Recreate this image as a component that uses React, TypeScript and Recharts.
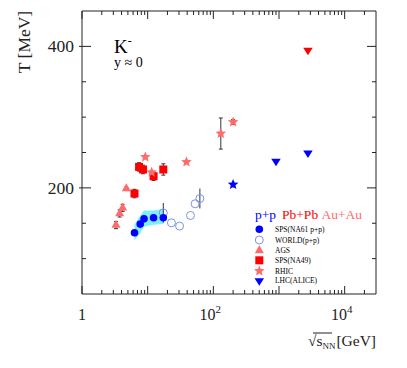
import React from "react";
import { ComposedChart, XAxis, YAxis, Scatter, Area, ErrorBar } from "recharts";

// ---- data ----
const xTicks = [1,2,3,4,5,6,7,8,9,10,20,30,40,50,60,70,80,90,100,200,300,400,500,600,700,800,900,1000,2000,3000,4000,5000,6000,7000,8000,9000,10000,20000];
const xMajor = [1, 10, 100, 1000, 10000];
const xLabelVals = [1, 100, 10000];
const xLabelBase = ["1", "10", "10"];
const xLabelExp = ["", "2", "4"];
const yTicks = [100, 150, 200, 250, 300, 350, 400];
const yLabelVals = [200, 400];

const na61X = [6.3, 7.7, 8.8, 12.3, 17.3];
const na61T = [136.5, 148.8, 156.2, 157.7, 157.7];
const na61Err = [3, 3, 3, 3, 3];
const na61BandLo = [126, 136, 145, 148, 149];
const na61BandHi = [148, 161, 168, 168, 170];

const worldX = [17.3, 23, 30.6, 44.9, 52.8, 62.4];
const worldT = [164.7, 150.6, 146, 161, 177.5, 185];
const worldErr = [14, 0, 0, 0, 0, 14];

const agsX = [3.29, 3.74, 4.16, 4.73];
const agsT = [147.3, 163.8, 171.8, 199];
const agsErr = [5, 5, 5, 2];

const na49X = [6.3, 7.4, 8.5, 12.3, 17.3];
const na49T = [192, 229.6, 226, 216.5, 226];
const na49Err = [6, 6, 6, 6, 8];

const rhicX = [9.2, 11.5, 39, 130, 200];
const rhicT = [243.5, 222, 236.7, 276.8, 293];
const rhicErr = [0, 0, 0, 22, 3.5];

const rhicPPX = [200];
const rhicPPT = [204.8];
const rhicPPErr = [5];

const lhcPPX = [900, 2760];
const lhcPPT = [237.7, 249.4];
const lhcPbX = [2760];
const lhcPbT = [394.4];

const legendHeads = ["p+p", "Pb+Pb", "Au+Au"];
const legendLabels = ["SPS(NA61 p+p)", "WORLD(p+p)", "AGS", "SPS(NA49)", "RHIC", "LHC(ALICE)"];

// ---- colours / build ----
const BLUE = "#0000ff";
const RED = "#ff0000";
const SALMON = "#ff6b6b";
const OPEN = "#7b93e6";
const AX = "#222";
const FONT = "Liberation Serif, Times New Roman, DejaVu Serif, serif";
const fs = (size: number) => ({ fontFamily: FONT, fontSize: size });

const pts = (xs: number[], ys: number[], es?: number[]) =>
  xs.map((x, i) => ({ x, y: ys[i], e: es ? es[i] : 0 }));
const bandData = na61X.map((x, i) => ({ x, band: [na61BandLo[i], na61BandHi[i]] }));

function drawMarker(kind: string, color: string, cx: number, cy: number) {
  switch (kind) {
    case "circle":
      return <circle cx={cx} cy={cy} r={3.8} fill={color} />;
    case "open":
      return <circle cx={cx} cy={cy} r={4} fill="none" stroke={color} strokeWidth={1} />;
    case "square":
      return <rect x={cx - 4} y={cy - 4} width={8} height={8} fill={color} />;
    case "tri": {
      const w = 9, h = 8;
      return <polygon points={`${cx},${cy - (h * 2) / 3} ${cx - w / 2},${cy + h / 3} ${cx + w / 2},${cy + h / 3}`} fill={color} />;
    }
    case "dtri": {
      const w = 9.5, h = 7.5;
      return <polygon points={`${cx},${cy + (h * 2) / 3} ${cx - w / 2},${cy - h / 3} ${cx + w / 2},${cy - h / 3}`} fill={color} />;
    }
    case "star": {
      const R = 5.6, r = 2.5;
      const p: string[] = [];
      for (let k = 0; k < 10; k++) {
        const a = -Math.PI / 2 + (k * Math.PI) / 5;
        const rr = k % 2 === 0 ? R : r;
        p.push(`${cx + rr * Math.cos(a)},${cy + rr * Math.sin(a)}`);
      }
      return <polygon points={p.join(" ")} fill={color} />;
    }
  }
  return null;
}

const shape = (kind: string, color: string) => (p: any) => {
  if (p.cx == null || p.cy == null) return <g />;
  return drawMarker(kind, color, p.cx, p.cy);
};

const XTick = (p: any) => {
  const { x, y, payload, side } = p;
  const v = payload.value;
  const major = xMajor.includes(v);
  const len = major ? 8 : 4;
  const dir = side === "bottom" ? -1 : 1;
  const li = xLabelVals.indexOf(v);
  return (
    <g>
      <line x1={x} y1={y} x2={x} y2={y + dir * len} stroke={AX} strokeWidth={1} />
      {side === "bottom" && li >= 0 && (
        <text x={li === 0 ? x : x - 3} y={y + 26} textAnchor="middle" style={fs(16)} fill={AX}>
          {xLabelBase[li]}
          {xLabelExp[li] && (
            <tspan dy={-7} style={fs(11)}>
              {xLabelExp[li]}
            </tspan>
          )}
        </text>
      )}
    </g>
  );
};

const YTick = (p: any) => {
  const { x, y, payload, side } = p;
  const v = payload.value;
  const major = yLabelVals.includes(v);
  const dir = side === "left" ? 1 : -1;
  const len = major ? 9 : 4;
  return (
    <g>
      <line x1={major && side === "left" ? x - 3 : x} y1={y} x2={x + dir * len} y2={y} stroke={AX} strokeWidth={1} />
      {side === "left" && major && (
        <text x={x - 8} y={y + 6} textAnchor="end" style={fs(17.5)} fill={AX}>
          {String(v)}
        </text>
      )}
    </g>
  );
};

const W = 399, H = 360;

export default function App() {
  const legendKinds: [string, string][] = [
    ["circle", BLUE], ["open", OPEN], ["tri", SALMON], ["square", RED], ["star", SALMON], ["dtri", BLUE],
  ];
  const legendY = [221.3, 232, 242.7, 252.3, 263, 272.7];
  const headX = [247, 274, 313.5];
  const headCol = [BLUE, RED, SALMON];
  return (
    <div style={{ position: "relative", width: W, height: H }}>
      <ComposedChart width={W} height={H} data={bandData} margin={{ top: 2, right: 30, bottom: 34, left: 34 }}>
        <XAxis xAxisId="b" dataKey="x" type="number" scale="log" domain={[1, 30000]} allowDataOverflow
          ticks={xTicks} interval={0} tickSize={0} tickMargin={0} height={40}
          axisLine={{ stroke: AX }} tickLine={false} tick={(p: any) => <XTick {...p} side="bottom" />} />
        <XAxis xAxisId="t" orientation="top" dataKey="x" type="number" scale="log" domain={[1, 30000]} allowDataOverflow
          ticks={xTicks} interval={0} tickSize={0} tickMargin={0} height={1}
          axisLine={{ stroke: AX }} tickLine={false} tick={(p: any) => <XTick {...p} side="top" />} />
        <YAxis yAxisId="l" dataKey="y" type="number" domain={[50, 450]} allowDataOverflow
          ticks={yTicks} interval={0} tickSize={0} tickMargin={0} width={40}
          axisLine={{ stroke: AX }} tickLine={false} tick={(p: any) => <YTick {...p} side="left" />} />
        <YAxis yAxisId="r" orientation="right" dataKey="y" type="number" domain={[50, 450]} allowDataOverflow
          ticks={yTicks} interval={0} tickSize={0} tickMargin={0} width={1}
          axisLine={{ stroke: AX }} tickLine={false} tick={(p: any) => <YTick {...p} side="right" />} />

        <Area xAxisId="b" yAxisId="l" dataKey="band" type="linear" fill="#7ff0fb" fillOpacity={1} stroke="none" isAnimationActive={false} />

        <Scatter xAxisId="b" yAxisId="l" data={pts(agsX, agsT, agsErr)} shape={shape("tri", SALMON)} isAnimationActive={false}>
          <ErrorBar dataKey="e" direction="y" width={2} stroke="#333" strokeWidth={1} />
        </Scatter>
        <Scatter xAxisId="b" yAxisId="l" data={pts(na49X, na49T, na49Err)} shape={shape("square", RED)} isAnimationActive={false}>
          <ErrorBar dataKey="e" direction="y" width={2} stroke="#333" strokeWidth={1} />
        </Scatter>
        <Scatter xAxisId="b" yAxisId="l" data={pts(rhicX, rhicT, rhicErr)} shape={shape("star", SALMON)} isAnimationActive={false}>
          <ErrorBar dataKey="e" direction="y" width={2} stroke="#333" strokeWidth={1} />
        </Scatter>
        <Scatter xAxisId="b" yAxisId="l" data={pts(worldX, worldT, worldErr)} shape={shape("open", OPEN)} isAnimationActive={false}>
          <ErrorBar dataKey="e" direction="y" width={0} stroke="#333" strokeWidth={1} />
        </Scatter>
        <Scatter xAxisId="b" yAxisId="l" data={pts(na61X, na61T, na61Err)} shape={shape("circle", BLUE)} isAnimationActive={false}>
          <ErrorBar dataKey="e" direction="y" width={0} stroke="#333" strokeWidth={1} />
        </Scatter>
        <Scatter xAxisId="b" yAxisId="l" data={pts(rhicPPX, rhicPPT, rhicPPErr)} shape={shape("star", BLUE)} isAnimationActive={false}>
          <ErrorBar dataKey="e" direction="y" width={0} stroke="#555" strokeWidth={1} />
        </Scatter>
        <Scatter xAxisId="b" yAxisId="l" data={pts(lhcPPX, lhcPPT)} shape={shape("dtri", BLUE)} isAnimationActive={false} />
        <Scatter xAxisId="b" yAxisId="l" data={pts(lhcPbX, lhcPbT)} shape={shape("dtri", RED)} isAnimationActive={false} />
      </ComposedChart>

      <svg width={W} height={H} style={{ position: "absolute", left: 0, top: 0, pointerEvents: "none", fontFamily: FONT }}>
        <text x={106} y={44.5} style={fs(19)} fill="#000">
          K<tspan dy={-8} style={fs(12)}>-</tspan>
        </text>
        <text x={106} y={59} style={fs(14)} fill="#000">y ≈ 0</text>

        <text transform="translate(22,34) rotate(-90)" textAnchor="middle" style={fs(17.5)} fill={AX}>T [MeV]</text>

        <text x={300} y={338} style={fs(15.5)} fill={AX}>
          √s<tspan dy={3} style={fs(9)}>NN</tspan>
        </text>
        <line x1={305} y1={325} x2={324} y2={325} stroke={AX} strokeWidth={1} />
        <text x={368} y={338} textAnchor="end" style={fs(15.5)} fill={AX}>[GeV]</text>

        {legendHeads.map((t, i) => (
          <text key={t} x={headX[i]} y={211} style={fs(13.5)} fill={headCol[i]}>{t}</text>
        ))}
        {legendLabels.map((t, i) => (
          <g key={t}>
            {drawMarker(legendKinds[i][0], legendKinds[i][1], 251.3, legendY[i])}
            <text x={267} y={legendY[i] + 2.6} style={fs(7.5)} fill="#000">{t}</text>
          </g>
        ))}
      </svg>
    </div>
  );
}
